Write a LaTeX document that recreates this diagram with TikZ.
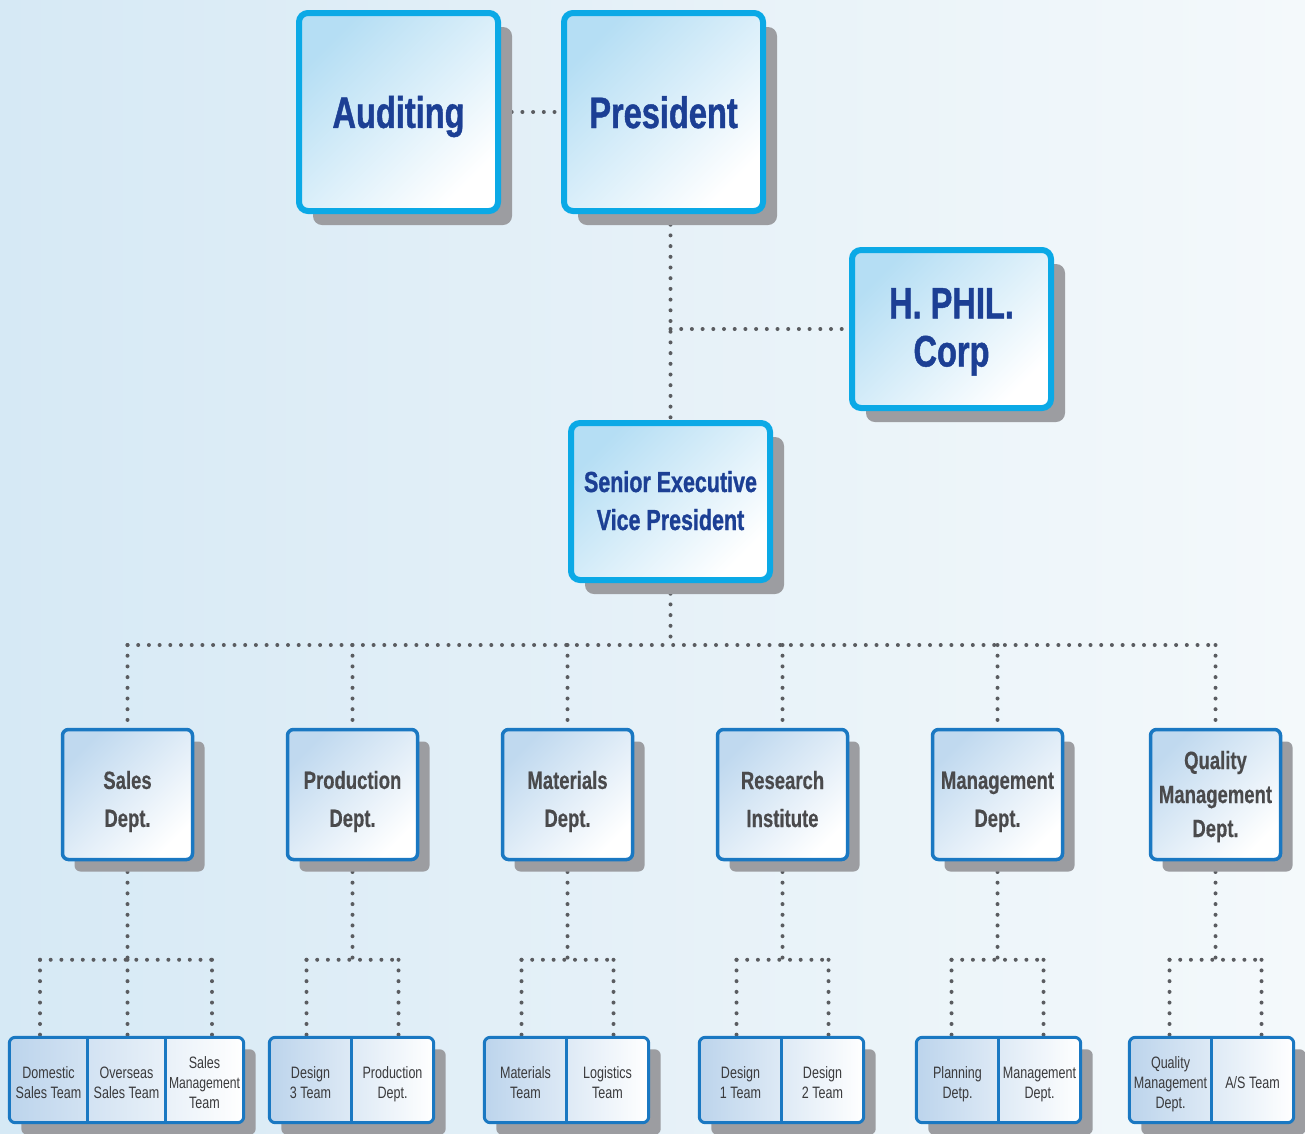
\documentclass[tikz,border=0pt]{standalone}
\usepackage{fontspec}
\setmainfont{Liberation Sans}
\newfontfamily\condh[FakeStretch=0.74,FakeBold=1]{Liberation Sans}
\newfontfamily\condb[FakeStretch=0.74,FakeBold=0.4]{Liberation Sans}
\newfontfamily\condr[FakeStretch=0.76]{Liberation Sans}
\usetikzlibrary{shadows,fit,calc}
\newcommand\HSt[1]{\rule{0pt}{#1}}
\newcommand\DSt[1]{\rule[-#1]{0pt}{#1}}
\definecolor{topborder}{HTML}{0BA9E6}
\definecolor{toptext}{HTML}{1C3F94}
\definecolor{deptborder}{HTML}{1A78C2}
\definecolor{depttext}{HTML}{4A4A4C}
\definecolor{teamtext}{HTML}{3A3A3C}
\definecolor{shadowgray}{HTML}{9C9DA1}
\definecolor{dotgray}{HTML}{5A5C60}
\definecolor{boxblue}{HTML}{B5DEF4}
\definecolor{deptblue}{HTML}{C0D9EF}
\definecolor{teamblue}{HTML}{BCD4EC}
\definecolor{bgleft}{HTML}{D6E9F5}
\definecolor{bgmid}{HTML}{E6F1F8}
\definecolor{bgright}{HTML}{F4F9FB}
\pgfdeclarelayer{bglayer}
\pgfdeclarelayer{lines}
\pgfdeclarelayer{groups}
\pgfsetlayers{bglayer,lines,groups,main}
\tikzset{
  topbox/.style={draw=topborder, line width=6pt, rounded corners=9pt,
    top color=boxblue, bottom color=white, shading angle=45,
    minimum width=199pt, inner sep=0pt, align=center, text=toptext,
    drop shadow={shadow xshift=14pt, shadow yshift=-14pt, fill=shadowgray, opacity=1},
    font=\condh\bfseries\fontsize{44}{48}\selectfont},
  deptbox/.style={draw=deptborder, line width=3.5pt, rounded corners=6pt,
    top color=deptblue, bottom color=white, shading angle=45,
    minimum width=130pt, minimum height=130pt, inner sep=0pt, align=center, text=depttext,
    drop shadow={shadow xshift=12pt, shadow yshift=-12pt, fill=shadowgray, opacity=1},
    font=\condb\bfseries\fontsize{25}{38}\selectfont},
  teamcell/.style={minimum height=85pt, inner sep=0pt, align=center, text=teamtext,
    font=\condr\fontsize{16.5}{20}\selectfont},
  teamgroup/.style={draw=deptborder, line width=3pt, rounded corners=6pt,
    left color=teamblue, right color=white, inner sep=0pt,
    drop shadow={shadow xshift=12pt, shadow yshift=-12pt, fill=shadowgray, opacity=1}},
  divider/.style={draw=deptborder, line width=3pt},
  dotline/.style={draw=dotgray, line width=4pt, line cap=round, dash pattern=on 0pt off 10.7pt},
}
\begin{document}
\begin{tikzpicture}[x=1pt,y=-1pt]
\useasboundingbox (0,0) rectangle (1305,1133);
\begin{pgfonlayer}{bglayer}
  \fill[left color=bgleft, right color=bgright, middle color=bgmid] (0,0) rectangle (1305,1133);
\end{pgfonlayer}

% top level
\node[topbox, minimum height=198pt] (aud) at (398.5,112) {\HSt{41pt}Auditing\DSt{4pt}};
\node[topbox, minimum height=198pt] (pres) at (663.5,112) {\HSt{36pt}President\DSt{4pt}};
\node[topbox, minimum height=158pt] (hphil) at (951.5,329) {\HSt{36pt}H. PHIL.\\Corp\DSt{4pt}};
\node[topbox, minimum height=157pt, font=\condh\bfseries\fontsize{29}{38}\selectfont] (sevp) at (670.5,501.5) {\HSt{23pt}Senior Executive\\Vice President\DSt{4pt}};

% departments
\node[deptbox] (sales) at (127.5,794.5) {\HSt{32pt}Sales\\Dept.\DSt{5pt}};
\node[deptbox] (prod) at (352.5,794.5) {\HSt{32pt}Production\\Dept.\DSt{5pt}};
\node[deptbox] (mat) at (567.5,794.5) {\HSt{32pt}Materials\\Dept.\DSt{5pt}};
\node[deptbox] (res) at (782.5,794.5) {\HSt{32pt}Research\\Institute\DSt{5pt}};
\node[deptbox] (mgmt) at (997.5,794.5) {\HSt{32pt}Management\\Dept.\DSt{5pt}};
\node[deptbox, font=\condb\bfseries\fontsize{25}{34}\selectfont] (qual) at (1215.5,794.5) {\HSt{23pt}Quality\\Management\\Dept.\DSt{6pt}};

% team cells
\node[teamcell, minimum width=78pt] (s1) at (48.5,1080) {\HSt{20pt}Domestic\\Sales Team\DSt{4pt}};
\node[teamcell, minimum width=78pt] (s2) at (126.5,1080) {\HSt{20pt}Overseas\\Sales Team\DSt{4pt}};
\node[teamcell, minimum width=78pt] (s3) at (204.5,1080) {\HSt{20pt}Sales\\{\fontsize{16}{20}\selectfont Management}\\Team\DSt{4pt}};
\node[teamcell, minimum width=82pt] (p1) at (310.5,1080) {\HSt{20pt}Design\\3 Team\DSt{4pt}};
\node[teamcell, minimum width=82pt] (p2) at (392.5,1080) {\HSt{20pt}Production\\Dept.\DSt{4pt}};
\node[teamcell, minimum width=82pt] (m1) at (525.5,1080) {\HSt{20pt}Materials\\Team\DSt{4pt}};
\node[teamcell, minimum width=82pt] (m2) at (607.5,1080) {\HSt{20pt}Logistics\\Team\DSt{4pt}};
\node[teamcell, minimum width=82pt] (r1) at (740.5,1080) {\HSt{20pt}Design\\1 Team\DSt{4pt}};
\node[teamcell, minimum width=82pt] (r2) at (822.5,1080) {\HSt{20pt}Design\\2 Team\DSt{4pt}};
\node[teamcell, minimum width=82pt] (g1) at (957.5,1080) {\HSt{20pt}Planning\\Detp.\DSt{4pt}};
\node[teamcell, minimum width=82pt] (g2) at (1039.5,1080) {\HSt{20pt}Management\\Dept.\DSt{4pt}};
\node[teamcell, minimum width=82pt] (q1) at (1170.5,1080) {\HSt{20pt}Quality\\Management\\Dept.\DSt{4pt}};
\node[teamcell, minimum width=82pt] (q2) at (1252.5,1080) {\HSt{20pt}A/S Team\DSt{4pt}};

\begin{pgfonlayer}{groups}
  \node[teamgroup, fit=(s1)(s3)] (sg) {};
  \node[teamgroup, fit=(p1)(p2)] (pg) {};
  \node[teamgroup, fit=(m1)(m2)] (mg) {};
  \node[teamgroup, fit=(r1)(r2)] (rg) {};
  \node[teamgroup, fit=(g1)(g2)] (gg) {};
  \node[teamgroup, fit=(q1)(q2)] (qg) {};
\end{pgfonlayer}

\foreach \c in {s1,s2,p1,m1,r1,g1,q1}
  \draw[divider] (\c.north east) -- (\c.south east);

% connectors
\begin{pgfonlayer}{lines}
  \draw[dotline] (aud.east) -- (pres.west);
  \draw[dotline] (sevp.north |- pres.south) -- (sevp.north);
  \draw[dotline] (sevp.north |- hphil.west) -- (hphil.west);
  \coordinate (bus) at ($(sevp.south)+(0,62)$);
  \draw[dotline] (sevp.south) -- (bus);
  \draw[dotline] (sales.north |- bus) -- (qual.north |- bus);
  \foreach \d in {sales,prod,mat,res,mgmt,qual}
    \draw[dotline] (\d.north |- bus) -- (\d.north);
  % sales teams
  \coordinate (sj) at ($(sales.south)+(0,98.5)$);
  \coordinate (sjL) at ($(sj)+(-87.5,0)$);
  \coordinate (sjR) at ($(sj)+(84.5,0)$);
  \draw[dotline] (sales.south) -- (sj);
  \draw[dotline] (sjL) -- (sjR);
  \draw[dotline] (sjL) -- (sjL |- s1.north);
  \draw[dotline] (sj) -- (sj |- s2.north);
  \draw[dotline] (sjR) -- (sjR |- s3.north);
  % two-team departments
  \foreach \d/\a/\b in {prod/p1/p2, mat/m1/m2, res/r1/r2, mgmt/g1/g2, qual/q1/q2} {
    \coordinate (\d j) at ($(\d.south)+(0,98.5)$);
    \coordinate (\d jL) at ($(\d j)+(-46,0)$);
    \coordinate (\d jR) at ($(\d j)+(46,0)$);
    \draw[dotline] (\d.south) -- (\d j);
    \draw[dotline] (\d jL) -- (\d jR);
    \draw[dotline] (\d jL) -- (\d jL |- \a.north);
    \draw[dotline] (\d jR) -- (\d jR |- \b.north);
  }
\end{pgfonlayer}
\end{tikzpicture}
\end{document}
